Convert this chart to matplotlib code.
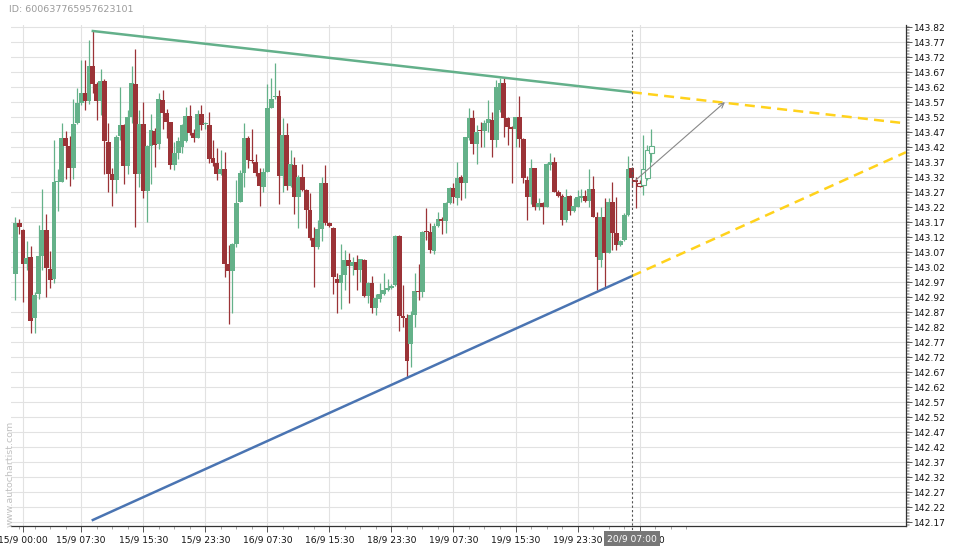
"""Candlestick chart with a converging triangle pattern (USD/JPY-style 30 min bars)."""

from __future__ import annotations

import matplotlib

matplotlib.use("Agg")
import matplotlib.pyplot as plt
from matplotlib.patches import Rectangle
from matplotlib.ticker import FixedLocator, MultipleLocator
import matplotlib.transforms as mtransforms

# --- data ------------------------------------------------------------------
opens = [
    142.996, 143.166, 143.143, 143.032, 143.052, 142.849, 142.929, 143.057, 143.143, 143.014,
    142.980, 143.304, 143.304, 143.449, 143.424, 143.351, 143.501, 143.566, 143.599, 143.574,
    143.690, 143.629, 143.574, 143.640, 143.438, 143.330, 143.312, 143.457, 143.493, 143.358,
    143.521, 143.630, 143.332, 143.497, 143.274, 143.423, 143.473, 143.430, 143.577, 143.534,
    143.502, 143.360, 143.399, 143.419, 143.440, 143.523, 143.466, 143.451, 143.530, 143.496,
    143.493, 143.382, 143.366, 143.330, 143.346, 143.030, 143.008, 143.097, 143.238, 143.334,
    143.452, 143.377, 143.369, 143.334, 143.288, 143.338, 143.551, 143.586, 143.590, 143.323,
    143.460, 143.290, 143.360, 143.254, 143.321, 143.277, 143.210, 143.118, 143.086, 143.147,
    143.299, 143.168, 143.152, 142.982, 142.968, 142.993, 143.043, 143.024, 143.038, 143.010,
    143.043, 142.923, 142.968, 142.884, 142.913, 142.932, 142.943, 142.951, 142.960, 143.123,
    142.857, 142.852, 142.763, 142.860, 142.940, 142.936, 143.140, 143.138, 143.074, 143.158,
    143.179, 143.174, 143.234, 143.282, 143.252, 143.319, 143.302, 143.452, 143.516, 143.432,
    143.477, 143.473, 143.499, 143.512, 143.443, 143.543, 143.632, 143.516, 143.486, 143.479,
    143.519, 143.447, 143.310, 143.254, 143.349, 143.221, 143.234, 143.221, 143.362, 143.369,
    143.271, 143.257, 143.177, 143.257, 143.208, 143.221, 143.251, 143.257, 143.240, 143.280,
    143.188, 143.043, 143.188, 143.068, 143.238, 143.134, 143.093, 143.110, 143.194, 143.349,
    143.310, 143.302, 143.293, 143.316, 143.399,
]
highs = [
    143.188, 143.182, 143.147, 143.108, 143.090, 142.938, 143.160, 143.279, 143.197, 143.074,
    143.443, 143.347, 143.502, 143.474, 143.458, 143.579, 143.616, 143.710, 143.710, 143.777,
    143.807, 143.638, 143.682, 143.647, 143.502, 143.349, 143.460, 143.621, 143.496, 143.543,
    143.690, 143.747, 143.543, 143.571, 143.427, 143.532, 143.484, 143.602, 143.610, 143.546,
    143.504, 143.438, 143.454, 143.497, 143.554, 143.560, 143.482, 143.543, 143.560, 143.504,
    143.538, 143.443, 143.416, 143.412, 143.404, 143.093, 143.099, 143.312, 143.343, 143.499,
    143.457, 143.479, 143.397, 143.349, 143.349, 143.632, 143.649, 143.699, 143.612, 143.516,
    143.499, 143.412, 143.388, 143.327, 143.363, 143.279, 143.268, 143.154, 143.177, 143.321,
    143.362, 143.171, 143.154, 142.999, 143.096, 143.077, 143.066, 143.054, 143.060, 143.048,
    143.046, 142.971, 142.991, 142.932, 142.968, 143.001, 142.979, 142.963, 143.127, 143.127,
    142.960, 142.863, 142.874, 142.999, 143.032, 143.140, 143.216, 143.166, 143.166, 143.204,
    143.186, 143.238, 143.288, 143.301, 143.371, 143.327, 143.454, 143.549, 143.543, 143.493,
    143.504, 143.510, 143.577, 143.538, 143.643, 143.652, 143.649, 143.521, 143.490, 143.521,
    143.590, 143.449, 143.323, 143.379, 143.351, 143.249, 143.238, 143.366, 143.399, 143.388,
    143.277, 143.264, 143.282, 143.260, 143.249, 143.277, 143.282, 143.277, 143.346, 143.323,
    143.204, 143.219, 143.249, 143.251, 143.304, 143.254, 143.110, 143.199, 143.390, 143.354,
    143.319, 143.310, 143.460, 143.427, 143.482,
]
lows = [
    142.910, 143.132, 142.904, 143.012, 142.799, 142.799, 142.913, 143.012, 142.919, 142.951,
    142.966, 143.208, 143.304, 143.313, 143.292, 143.313, 143.497, 143.560, 143.543, 143.563,
    143.599, 143.510, 143.527, 143.332, 143.269, 143.223, 143.266, 143.443, 143.296, 143.332,
    143.499, 143.154, 143.288, 143.249, 143.171, 143.296, 143.354, 143.413, 143.482, 143.452,
    143.346, 143.343, 143.382, 143.401, 143.438, 143.460, 143.438, 143.449, 143.477, 143.479,
    143.366, 143.357, 143.310, 143.327, 142.986, 142.832, 142.866, 143.086, 143.236, 143.288,
    143.351, 143.368, 143.323, 143.223, 143.271, 143.336, 143.549, 143.582, 143.232, 143.271,
    143.277, 143.288, 143.197, 143.149, 143.274, 143.152, 143.110, 142.954, 143.082, 143.107,
    143.160, 143.154, 142.932, 142.866, 142.879, 142.943, 142.902, 142.993, 142.943, 142.971,
    142.919, 142.899, 142.866, 142.860, 142.904, 142.927, 142.941, 142.948, 142.957, 142.808,
    142.821, 142.654, 142.688, 142.821, 142.912, 142.921, 143.110, 143.066, 143.063, 143.154,
    143.130, 143.134, 143.232, 143.234, 143.227, 143.243, 143.252, 143.443, 143.396, 143.363,
    143.421, 143.419, 143.471, 143.386, 143.419, 143.538, 143.454, 143.427, 143.299, 143.419,
    143.421, 143.301, 143.177, 143.232, 143.210, 143.210, 143.163, 143.219, 143.343, 143.269,
    143.254, 143.160, 143.171, 143.193, 143.204, 143.219, 143.238, 143.238, 143.221, 143.186,
    142.943, 143.021, 142.954, 143.066, 143.077, 143.077, 143.090, 143.108, 143.191, 143.286,
    143.216, 143.288, 143.260, 143.310, 143.371,
]
closes = [
    143.166, 143.154, 143.032, 143.052, 142.841, 142.927, 143.057, 143.143, 143.018, 142.977,
    143.304, 143.308, 143.449, 143.424, 143.351, 143.497, 143.566, 143.599, 143.574, 143.690,
    143.629, 143.574, 143.640, 143.441, 143.332, 143.312, 143.454, 143.493, 143.358, 143.521,
    143.634, 143.332, 143.497, 143.274, 143.423, 143.477, 143.427, 143.580, 143.534, 143.504,
    143.360, 143.399, 143.440, 143.493, 143.523, 143.468, 143.451, 143.530, 143.493, 143.501,
    143.382, 143.366, 143.330, 143.346, 143.030, 143.008, 143.097, 143.234, 143.334, 143.452,
    143.377, 143.374, 143.334, 143.291, 143.338, 143.549, 143.582, 143.590, 143.323, 143.460,
    143.290, 143.363, 143.254, 143.321, 143.277, 143.210, 143.118, 143.086, 143.147, 143.299,
    143.168, 143.158, 142.986, 142.968, 142.993, 143.043, 143.024, 143.038, 143.010, 143.046,
    142.923, 142.968, 142.884, 142.916, 142.932, 142.943, 142.952, 142.957, 143.123, 142.857,
    142.852, 142.708, 142.860, 142.940, 142.936, 143.138, 143.137, 143.077, 143.158, 143.182,
    143.174, 143.234, 143.284, 143.254, 143.316, 143.302, 143.452, 143.516, 143.432, 143.471,
    143.473, 143.501, 143.512, 143.443, 143.621, 143.632, 143.516, 143.486, 143.479, 143.519,
    143.447, 143.316, 143.254, 143.349, 143.221, 143.234, 143.221, 143.362, 143.371, 143.271,
    143.257, 143.177, 143.254, 143.208, 143.223, 143.252, 143.257, 143.240, 143.280, 143.188,
    143.054, 143.188, 143.068, 143.238, 143.134, 143.093, 143.108, 143.194, 143.347, 143.316,
    143.304, 143.291, 143.347, 143.410, 143.424,
]
first_hollow = 161  # bars after the pattern end are drawn hollow

tick_pos = [2, 17, 33, 49, 65, 81, 97, 113, 129, 145, 161]
tick_labels = [
    "15/9 00:00", "15/9 07:30", "15/9 15:30", "15/9 23:30", "16/9 07:30", "16/9 15:30",
    "18/9 23:30", "19/9 07:30", "19/9 15:30", "19/9 23:30", "20/9 07:30",
]
end_bar = 159
end_label = "20/9 07:00"

# trend lines: (bar, price) pairs
resist = [(20, 143.807), (159, 143.603)]
resist_proj = [(159, 143.603), (229.7, 143.499)]
support = [(20, 142.177), (159, 142.990)]
support_proj = [(159, 142.990), (229.7, 143.403)]
arrow_from = (160, 143.31)
arrow_to = (183, 143.57)

GREEN = "#64b189"
RED = "#9b3337"


def _draw_candles(ax) -> None:
    w = 1.25
    for i, (o, h, l, c) in enumerate(zip(opens, highs, lows, closes)):
        col = GREEN if c >= o else RED
        bottom = min(o, c)
        height = max(abs(c - o), 0.003)
        ax.vlines(i, l, h, color=col, lw=0.9, zorder=3)
        if i >= first_hollow:
            ax.add_patch(Rectangle((i - w / 2, bottom), w, height, facecolor="white",
                                   edgecolor=col, lw=0.8, zorder=3))
        else:
            ax.add_patch(Rectangle((i - w / 2, bottom), w, height, facecolor=col,
                                   edgecolor="none", zorder=3))


def main() -> None:
    fig = plt.figure(figsize=(9.6, 5.5), dpi=100)
    ax = fig.add_axes([11 / 960, 24 / 550, 895 / 960, 501 / 550])

    ax.set_xlim(-1.1, 229.7)
    ax.set_ylim(142.157, 143.827)

    # grid
    for p in tick_pos:
        ax.axvline(p, color="#e2e2e2", lw=0.8, zorder=0)
    y = 142.17
    while y < 143.83:
        ax.axhline(y, color="#e2e2e2", lw=0.8, zorder=0)
        y += 0.05

    _draw_candles(ax)

    ax.plot(*zip(*resist), color="#63b08a", lw=1.8, zorder=4)
    ax.plot(*zip(*support), color="#4a74b2", lw=1.8, zorder=4)
    ax.plot(*zip(*resist_proj), color="#ffd21c", lw=1.8, ls=(0, (4, 2.5)), zorder=4)
    ax.plot(*zip(*support_proj), color="#ffd21c", lw=1.8, ls=(0, (4, 2.5)), zorder=4)
    ax.annotate("", xy=arrow_to, xytext=arrow_from,
                arrowprops=dict(arrowstyle="->", color="#888888", lw=0.8,
                                shrinkA=0, shrinkB=0, mutation_scale=9), zorder=5)

    ax.axvline(end_bar, ymin=-0.015, ymax=0.99, color="#555555", lw=0.8,
               ls=(0, (2, 2)), zorder=5, clip_on=False)

    # axes look
    for side in ("top", "left"):
        ax.spines[side].set_visible(False)
    for side in ("right", "bottom"):
        ax.spines[side].set_color("#333333")
        ax.spines[side].set_linewidth(0.9)

    ax.yaxis.tick_right()
    ax.yaxis.set_major_locator(FixedLocator([142.17 + 0.05 * k for k in range(34)]))
    ax.yaxis.set_major_formatter(plt.FuncFormatter(lambda v, _: f"{v:.2f}"))
    ax.yaxis.set_minor_locator(MultipleLocator(0.005))
    ax.tick_params(axis="y", which="major", length=4, width=0.7, color="#555555",
                   labelsize=6.6, pad=1.5, labelcolor="#111111")
    ax.tick_params(axis="y", which="minor", length=2, width=0.5, color="#999999")

    ax.set_xticks(tick_pos, tick_labels)
    ax.set_xticks([k for k in range(1, 174, 4) if k not in (17, 33, 49, 65, 81, 97, 113, 129, 145, 161)],
                  minor=True)
    ax.tick_params(axis="x", which="major", length=4, width=0.7, color="#555555",
                   labelsize=6.6, pad=2.5, labelcolor="#111111")
    ax.tick_params(axis="x", which="minor", length=2.5, width=0.6, color="#999999")

    # label box on the last pattern bar
    trans = mtransforms.blended_transform_factory(ax.transData, ax.transAxes)
    ax.text(end_bar, -0.025, end_label, transform=trans, ha="center", va="center",
            fontsize=6.6, color="white", zorder=10, clip_on=False,
            bbox=dict(boxstyle="square,pad=0.35", facecolor="#777777", edgecolor="none"))

    fig.text(9 / 960, 1 - 10 / 550, "ID: 600637765957623101", fontsize=6.8,
             color="#9a9a9a", ha="left", va="center")
    fig.text(10 / 960, 1 - 474 / 550, "www.autochartist.com", fontsize=6.8,
             color="#c0c0c0", rotation=90, ha="center", va="center")

    fig.savefig("out.png", dpi=100)
    plt.close(fig)


if __name__ == "__main__":
    main()
